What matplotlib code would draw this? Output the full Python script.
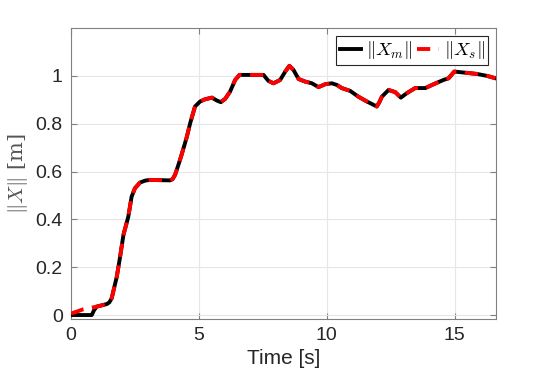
import matplotlib
matplotlib.use("Agg")
import matplotlib.pyplot as plt

plt.rcParams['mathtext.fontset'] = 'cm'
plt.rcParams['font.family'] = ['Liberation Sans', 'DejaVu Sans']

t_m = [0.0, 0.81, 0.9, 1.0, 1.40, 1.50, 1.59, 1.79, 1.92, 2.05, 2.24, 2.37, 2.50, 2.70, 2.90, 3.09,
       3.87, 3.97, 4.07, 4.20, 4.31, 4.53, 4.66, 4.85, 5.05, 5.24, 5.51, 5.70, 5.86, 6.03, 6.22,
       6.42, 6.59, 7.53, 7.62, 7.72, 7.92, 8.18, 8.38, 8.54, 8.70, 8.90, 9.16, 9.42, 9.68, 9.94,
       10.20, 10.40, 10.59, 10.92, 11.24, 11.57, 11.96, 12.06, 12.16, 12.42, 12.68, 12.90,
       13.14, 13.46, 13.86, 14.18, 14.57, 14.77, 14.99, 15.35, 15.88, 16.27, 16.6]
x_m = [0.0, 0.0, 0.02, 0.035, 0.046, 0.053, 0.07, 0.160, 0.244, 0.335, 0.411, 0.495, 0.530, 0.554,
       0.562, 0.565, 0.563, 0.568, 0.586, 0.628, 0.665, 0.745, 0.802, 0.872, 0.893, 0.902, 0.909,
       0.897, 0.890, 0.904, 0.934, 0.983, 1.004, 1.004, 0.992, 0.979, 0.969, 0.983, 1.018, 1.042,
       1.025, 0.987, 0.976, 0.969, 0.953, 0.965, 0.969, 0.962, 0.949, 0.937, 0.913, 0.893, 0.872,
       0.890, 0.913, 0.941, 0.932, 0.909, 0.928, 0.949, 0.949, 0.965, 0.983, 0.990, 1.018, 1.014,
       1.008, 1.000, 0.990]

t_s = [0.0, 0.48, 1.0] + t_m[4:]
x_s = [0.006, 0.024, 0.035] + x_m[4:]

x_ticks = [0, 5, 10, 15]
y_ticks = [0, 0.2, 0.4, 0.6, 0.8, 1.0]
y_ticklabels = ['0', '0.2', '0.4', '0.6', '0.8', '1']

fig = plt.figure(figsize=(5.48, 3.84), dpi=100)
ax = fig.add_axes([0.1296, 0.169, 0.7754, 0.758])

ax.plot(t_m, x_m, color='black', lw=2.8, label=r'$\|X_m\|$', zorder=3,
        solid_joinstyle='round')
ax.plot(t_s, x_s, color='red', lw=2.8, dashes=(3.4, 2.2), label=r'$\|X_s\|$', zorder=4)

ax.set_xlim(0, 16.62)
ax.set_ylim(-0.017, 1.2)
ax.set_xticks(x_ticks)
ax.set_yticks(y_ticks)
ax.set_yticklabels(y_ticklabels)
ax.grid(True, color='#e6e6e6', lw=0.8)
ax.set_axisbelow(True)
ax.tick_params(direction='in', top=True, right=True, labelsize=14, colors='#262626',
               length=4, width=0.8, pad=6)
ax.tick_params(axis='both', color='#808080')
for s in ax.spines.values():
    s.set_color('#808080')
    s.set_linewidth(0.8)

ax.set_xlabel('Time [s]', fontsize=15, color='#262626', labelpad=3)
ax.set_ylabel(r'$\|X\|$ [m]', fontsize=15, color='#555555', labelpad=4)
ax.yaxis.label.set_fontfamily(['DejaVu Serif'])

leg = ax.legend(loc='upper right', ncol=2, fontsize=13.5, frameon=True, fancybox=False,
                edgecolor='#262626', framealpha=1, borderpad=0.2, handlelength=1.15,
                handletextpad=0.25, columnspacing=0.25, borderaxespad=0.4)
leg.get_frame().set_linewidth(0.8)

fig.savefig('out.png', dpi=100)
